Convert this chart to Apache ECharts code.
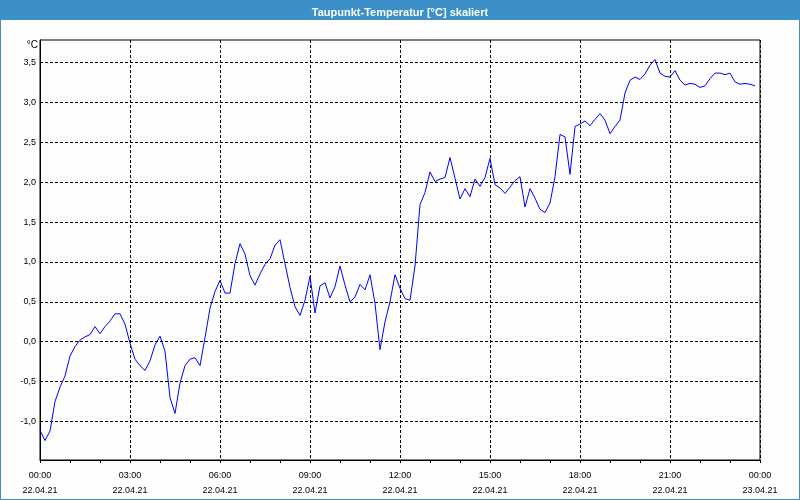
<!DOCTYPE html>
<html>
<head>
<meta charset="utf-8">
<script src="https://cdn.jsdelivr.net/npm/echarts@6/dist/echarts.min.js"></script>
<style>
html,body{margin:0;padding:0;background:#fdfefd;}
#chart{width:800px;height:500px;}
</style>
</head>
<body>
<div id="chart"></div>
<script>
// Dew point values, one reading every 10 minutes starting 22.04.21 00:00
const dewPoint = [
  -1.11, -1.24, -1.12, -0.75, -0.57, -0.43, -0.18, -0.06, 0.02, 0.06,
  0.09, 0.19, 0.10, 0.19, 0.26, 0.35, 0.35, 0.22, -0.02, -0.22,
  -0.30, -0.36, -0.24, -0.04, 0.07, -0.12, -0.70, -0.90, -0.52, -0.30,
  -0.22, -0.20, -0.30, 0.05, 0.42, 0.63, 0.77, 0.61, 0.61, 0.98,
  1.23, 1.10, 0.83, 0.71, 0.85, 0.97, 1.04, 1.21, 1.28, 0.98,
  0.68, 0.44, 0.33, 0.52, 0.82, 0.36, 0.70, 0.74, 0.55, 0.69,
  0.95, 0.71, 0.50, 0.56, 0.72, 0.65, 0.84, 0.48, -0.10, 0.25,
  0.50, 0.84, 0.67, 0.54, 0.52, 0.95, 1.72, 1.87, 2.13, 2.01,
  2.04, 2.06, 2.31, 2.05, 1.79, 1.92, 1.82, 2.04, 1.95, 2.06,
  2.30, 1.97, 1.93, 1.86, 1.94, 2.02, 2.07, 1.69, 1.92, 1.80,
  1.66, 1.62, 1.74, 2.07, 2.60, 2.57, 2.10, 2.70, 2.73, 2.77,
  2.71, 2.79, 2.86, 2.78, 2.61, 2.70, 2.78, 3.12, 3.28, 3.32,
  3.29, 3.36, 3.47, 3.54, 3.37, 3.33, 3.32, 3.40, 3.28, 3.22,
  3.24, 3.23, 3.19, 3.21, 3.30, 3.37, 3.37, 3.35, 3.37, 3.26,
  3.23, 3.24, 3.23, 3.21
];
const sampleStepMinutes = 10;
const sampleMinutes = dewPoint.map((_, i) => i * sampleStepMinutes);

const xTickTimes = ['00:00','03:00','06:00','09:00','12:00','15:00','18:00','21:00','00:00'];
const xTickDates = ['22.04.21','22.04.21','22.04.21','22.04.21','22.04.21','22.04.21','22.04.21','22.04.21','23.04.21'];
const yTicks = [-1.0, -0.5, 0.0, 0.5, 1.0, 1.5, 2.0, 2.5, 3.0, 3.5];

const titleText = 'Taupunkt-Temperatur [°C] skaliert';
const unitText = '°C';

const chart = echarts.init(document.getElementById('chart'), null, {renderer: 'canvas'});
const font = '"Liberation Sans", Arial, sans-serif';

chart.setOption({
  backgroundColor: '#fdfefd',
  animation: false,
  title: {
    text: titleText,
    left: 'center',
    top: 2,
    textStyle: {color: '#ffffff', fontSize: 11, fontWeight: 'bold', fontFamily: font}
  },
  graphic: [
    {type: 'rect', z: -1, shape: {x: 0, y: 0, width: 800, height: 20}, style: {fill: '#3d8fc7'}},
    {type: 'rect', z: 100, shape: {x: 0.5, y: 0.5, width: 799, height: 499}, style: {fill: null, stroke: '#3d8fc7', lineWidth: 1}},
    {type: 'text', x: 38, y: 45, style: {text: unitText, align: 'right', verticalAlign: 'middle', fill: '#000', font: '10px ' + font}}
  ],
  grid: {left: 40, right: 40, top: 40, bottom: 40, show: true, borderColor: '#000', borderWidth: 1, backgroundColor: 'transparent'},
  xAxis: {
    type: 'value',
    min: 0,
    max: 1440,
    interval: 180,
    axisLine: {show: true, onZero: false, lineStyle: {color: '#000', width: 1}},
    axisTick: {show: true, length: 3, lineStyle: {color: '#000'}},
    minorTick: {show: true, splitNumber: 3, length: 3, lineStyle: {color: '#000'}},
    splitLine: {show: true, lineStyle: {color: '#000', type: [3, 2], width: 1}},
    axisLabel: {
      margin: 8,
      lineHeight: 15,
      color: '#000',
      fontSize: 9,
      fontFamily: font,
      formatter: function (v) {
        const i = Math.round(v / 180);
        return xTickTimes[i] + '\n' + xTickDates[i];
      }
    }
  },
  yAxis: {
    type: 'value',
    min: -1.484,
    max: 3.785,
    axisLine: {show: true, lineStyle: {color: '#000', width: 1}},
    axisTick: {show: false, customValues: yTicks},
    splitLine: {show: true, lineStyle: {color: '#000', type: [3, 2], width: 1}},
    axisLabel: {
      customValues: yTicks,
      margin: 4,
      color: '#000',
      fontSize: 9,
      fontFamily: font,
      formatter: function (v) { return v.toFixed(1).replace('.', ','); }
    }
  },
  series: [{
    type: 'line',
    data: dewPoint.map((v, i) => [sampleMinutes[i], v]),
    showSymbol: false,
    symbol: 'none',
    lineStyle: {color: '#0000ff', width: 1},
    itemStyle: {color: '#0000ff'}
  }]
});
</script>
</body>
</html>
